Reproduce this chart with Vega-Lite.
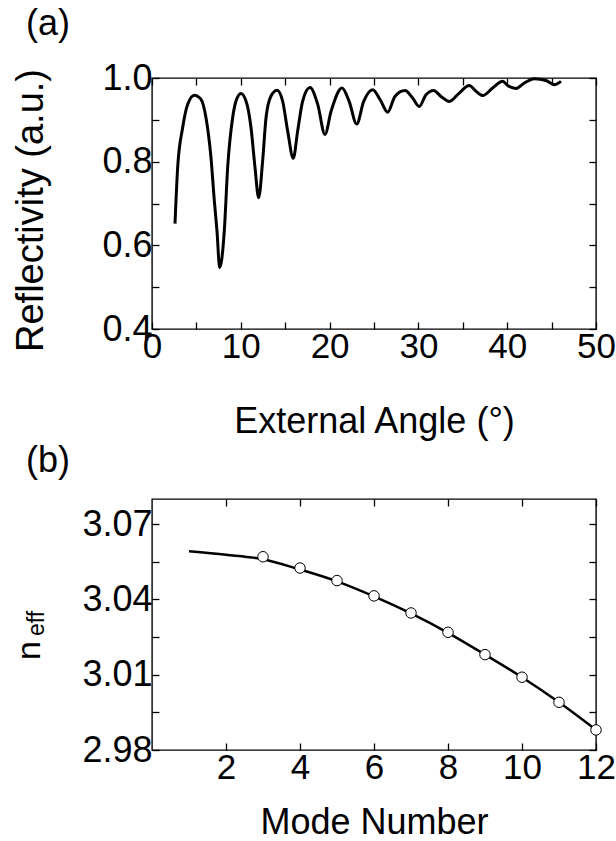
{
  "$schema": "https://vega.github.io/schema/vega-lite/v6.json",
  "background": "white",
  "padding": {"left": 11, "top": 5, "right": 0, "bottom": 0},
  "config": {
    "font": "Liberation Sans",
    "view": {"stroke": "black", "strokeWidth": 1.4},
    "axis": {
      "domain": false, "grid": false, "ticks": true,
      "tickColor": "black", "tickWidth": 1.3, "tickSize": -7,
      "labelFontSize": 35, "labelColor": "black", "labelFont": "Liberation Sans",
      "titleFontSize": 36, "titleColor": "black", "titleFont": "Liberation Sans", "titleFontWeight": "normal",
      "labelPadding": 7, "labelFlush": false, "labelOverlap": false
    },
    "title": {"fontSize": 36, "fontWeight": "normal", "color": "black", "font": "Liberation Sans", "anchor": "start", "frame": "group"}
  },
  "datasets": {
    "reflect": [
      {"angle": 2.59, "R": 0.652}, {"angle": 2.89, "R": 0.786}, {"angle": 3.45, "R": 0.881}, {"angle": 4.02, "R": 0.937},
      {"angle": 4.77, "R": 0.959}, {"angle": 5.52, "R": 0.949}, {"angle": 6.08, "R": 0.905}, {"angle": 6.64, "R": 0.810},
      {"angle": 7.02, "R": 0.706}, {"angle": 7.32, "R": 0.634}, {"angle": 7.62, "R": 0.547}, {"angle": 8.14, "R": 0.634},
      {"angle": 8.52, "R": 0.786}, {"angle": 9.08, "R": 0.905}, {"angle": 9.46, "R": 0.945}, {"angle": 10.02, "R": 0.963},
      {"angle": 10.7, "R": 0.937}, {"angle": 11.15, "R": 0.881}, {"angle": 11.6, "R": 0.786}, {"angle": 12.01, "R": 0.714},
      {"angle": 12.46, "R": 0.802}, {"angle": 12.84, "R": 0.905}, {"angle": 13.4, "R": 0.957}, {"angle": 14.08, "R": 0.971},
      {"angle": 14.71, "R": 0.945}, {"angle": 15.28, "R": 0.873}, {"angle": 15.91, "R": 0.808}, {"angle": 16.4, "R": 0.873},
      {"angle": 16.97, "R": 0.945}, {"angle": 17.79, "R": 0.977}, {"angle": 18.66, "R": 0.937}, {"angle": 19.48, "R": 0.865},
      {"angle": 20.16, "R": 0.92}, {"angle": 21.4, "R": 0.976}, {"angle": 22.2, "R": 0.944}, {"angle": 23.05, "R": 0.89},
      {"angle": 23.84, "R": 0.944}, {"angle": 24.85, "R": 0.972}, {"angle": 25.7, "R": 0.948}, {"angle": 26.54, "R": 0.918},
      {"angle": 27.36, "R": 0.956}, {"angle": 28.49, "R": 0.97}, {"angle": 29.35, "R": 0.952}, {"angle": 30.1, "R": 0.932},
      {"angle": 30.86, "R": 0.96}, {"angle": 31.72, "R": 0.97}, {"angle": 32.55, "R": 0.956}, {"angle": 33.48, "R": 0.944},
      {"angle": 34.6, "R": 0.964}, {"angle": 35.73, "R": 0.982}, {"angle": 36.5, "R": 0.968}, {"angle": 37.24, "R": 0.958},
      {"angle": 38.36, "R": 0.976}, {"angle": 39.49, "R": 0.992}, {"angle": 40.05, "R": 0.982}, {"angle": 41.0, "R": 0.975},
      {"angle": 41.93, "R": 0.988}, {"angle": 43.06, "R": 0.998}, {"angle": 44.37, "R": 0.994}, {"angle": 45.3, "R": 0.984},
      {"angle": 46.06, "R": 0.992}
    ],
    "neffLine": [
      {"mode": 1, "neff": 3.0592}, {"mode": 2, "neff": 3.0578}, {"mode": 3, "neff": 3.056}, {"mode": 4, "neff": 3.0519},
      {"mode": 5, "neff": 3.0472}, {"mode": 6, "neff": 3.0412}, {"mode": 7, "neff": 3.0344}, {"mode": 8, "neff": 3.0267},
      {"mode": 9, "neff": 3.018}, {"mode": 10, "neff": 3.009}, {"mode": 11, "neff": 2.999}, {"mode": 12, "neff": 2.988}
    ],
    "neffModes": [
      {"mode": 3, "neff": 3.057}, {"mode": 4, "neff": 3.0525}, {"mode": 5, "neff": 3.0475}, {"mode": 6, "neff": 3.0414},
      {"mode": 7, "neff": 3.0346}, {"mode": 8, "neff": 3.0269}, {"mode": 9, "neff": 3.018}, {"mode": 10, "neff": 3.009},
      {"mode": 11, "neff": 2.999}, {"mode": 12, "neff": 2.988}
    ]
  },
  "bounds": "flush",
  "spacing": 170,
  "vconcat": [
    {
      "width": 444, "height": 251,
      "title": {"text": "(a)", "dx": -126, "offset": 17},
      "layer": [
        {
          "data": {"name": "reflect"},
          "mark": {"type": "line", "color": "black", "strokeWidth": 3, "interpolate": "monotone"},
          "encoding": {
            "x": {"field": "angle", "type": "quantitative", "scale": {"domain": [0, 50], "nice": false, "zero": false},
              "axis": {"orient": "bottom", "values": [0, 5, 10, 15, 20, 25, 30, 35, 40, 45, 50],
                "labelExpr": "datum.value % 10 === 0 ? datum.label : ''", "title": "External Angle (°)", "titlePadding": 40}},
            "y": {"field": "R", "type": "quantitative", "scale": {"domain": [0.4, 1.0], "nice": false, "zero": false},
              "axis": {"orient": "left", "values": [0.4, 0.5, 0.6, 0.7, 0.8, 0.9, 1.0], "format": ".1f", "labelFontSize": 36,
                "labelExpr": "round(datum.value * 10) % 2 === 0 ? datum.label : ''",
                "title": "Reflectivity (a.u.)", "titleX": -110, "titleY": 132, "titleAngle": 270,
                "titleAlign": "center", "titleBaseline": "alphabetic", "titleFontSize": 38}}
          }
        },
        {
          "data": {"name": "reflect"},
          "mark": {"type": "line", "strokeOpacity": 0},
          "encoding": {
            "x": {"field": "angle", "type": "quantitative", "scale": {"domain": [0, 50], "nice": false, "zero": false},
              "axis": {"orient": "top", "values": [0, 5, 10, 15, 20, 25, 30, 35, 40, 45, 50], "labels": false, "title": null}},
            "y": {"field": "R", "type": "quantitative", "scale": {"domain": [0.4, 1.0], "nice": false, "zero": false},
              "axis": {"orient": "right", "values": [0.4, 0.5, 0.6, 0.7, 0.8, 0.9, 1.0], "labels": false, "title": null}}
          }
        }
      ],
      "resolve": {"axis": {"x": "independent", "y": "independent"}}
    },
    {
      "width": 444, "height": 251,
      "title": {"text": "(b)", "dx": -126, "offset": 18},
      "layer": [
        {
          "data": {"name": "neffLine"},
          "mark": {"type": "line", "color": "black", "strokeWidth": 2.5, "interpolate": "monotone"},
          "encoding": {
            "x": {"field": "mode", "type": "quantitative", "scale": {"domain": [0, 12], "nice": false, "zero": false},
              "axis": {"orient": "bottom", "values": [2, 4, 6, 8, 10, 12], "title": "Mode Number", "titlePadding": 20}},
            "y": {"field": "neff", "type": "quantitative", "scale": {"domain": [2.98, 3.08], "nice": false, "zero": false},
              "axis": {"orient": "left", "values": [2.98, 2.995, 3.01, 3.025, 3.04, 3.055, 3.07], "format": ".2f", "labelFontSize": 36,
                "labelExpr": "abs(round(datum.value * 1000) - 2980) % 30 === 0 ? datum.label : ''",
                "title": "n", "titleX": -113, "titleY": 151, "titleAngle": 270,
                "titleAlign": "center", "titleBaseline": "alphabetic", "titleFontSize": 34}}
          }
        },
        {
          "data": {"name": "neffModes"},
          "mark": {"type": "point", "shape": "circle", "filled": true, "fill": "white", "stroke": "black", "strokeWidth": 1, "size": 110, "opacity": 1},
          "encoding": {
            "x": {"field": "mode", "type": "quantitative", "scale": {"domain": [0, 12], "nice": false, "zero": false},
              "axis": {"orient": "top", "values": [2, 4, 6, 8, 10, 12], "labels": false, "title": null}},
            "y": {"field": "neff", "type": "quantitative", "scale": {"domain": [2.98, 3.08], "nice": false, "zero": false},
              "axis": {"orient": "right", "values": [2.98, 2.995, 3.01, 3.025, 3.04, 3.055, 3.07], "labels": false,
                "title": "eff", "titleX": -553, "titleY": 124, "titleAngle": 270,
                "titleAlign": "center", "titleBaseline": "alphabetic", "titleFontSize": 23}}
          }
        }
      ],
      "resolve": {"axis": {"x": "independent", "y": "independent"}}
    }
  ]
}
